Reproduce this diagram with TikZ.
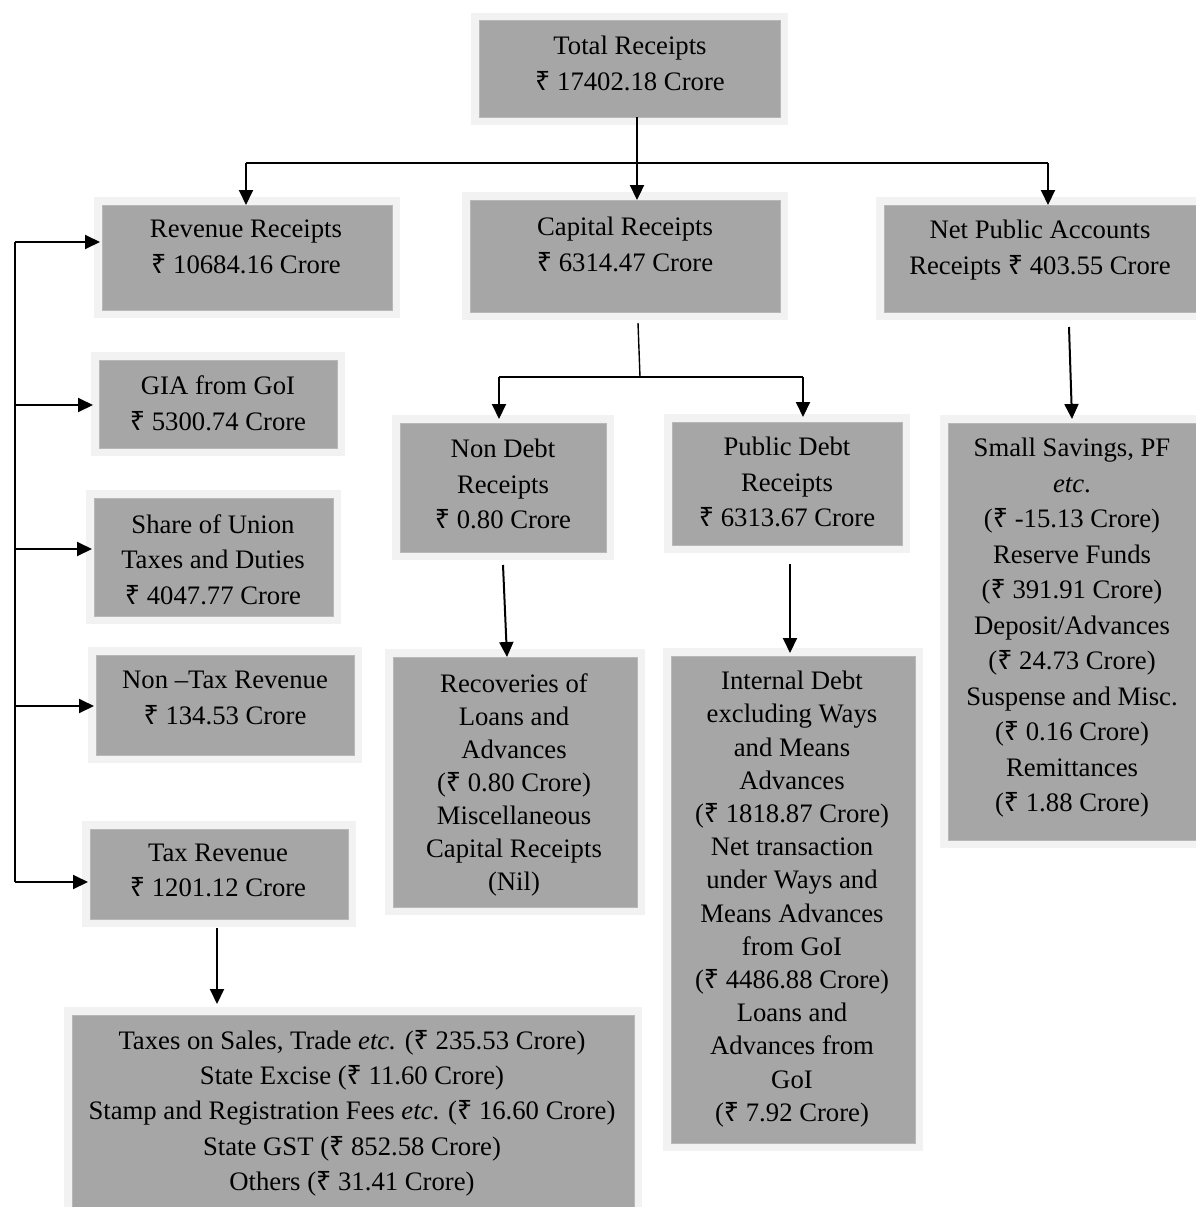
\documentclass[tikz,border=0pt]{standalone}
\usepackage{fontspec}
\setmainfont{Liberation Serif}
\newfontfamily\rupfont{Noto Sans}
\newcommand\rs{{\rupfont ₹}}
\usetikzlibrary{arrows.meta,calc}
\definecolor{boxfill}{HTML}{A6A6A6}
\definecolor{boxrim}{HTML}{F2F2F2}
\definecolor{boxedge}{HTML}{B8B8B8}
\newcommand\gbx[5]{\node[gbox, minimum width={#4-#2}, minimum height={#5-#3}] (#1) at (#2,#3) {};}
\begin{document}
\begin{tikzpicture}[x=1pt,y=-1pt,
  gbox/.style={draw=boxedge, line width=1pt, fill=boxfill, preaction={draw=boxrim, line width=16pt}, anchor=north west, inner sep=0pt, outer sep=0pt},
  txt/.style={anchor=north, inner sep=0pt, align=center, font=\fontsize{26.7}{#1}\selectfont},
  txt/.default=36,
  ln/.style={line width=2pt},
  arr/.style={line width=2pt, -{Triangle[length=15pt,width=14pt]}}]
\fill[white] (0,0) rectangle (1196,1207);
\useasboundingbox (0,0) rectangle (1196,1207);
\clip (0,0) rectangle (1196,1207);
% boxes
\gbx{tot}{479}{21}{780}{117}
\gbx{rev}{102}{205}{392}{310}
\gbx{cap}{470}{200}{780}{312}
\gbx{net}{884}{205}{1204}{312}
\gbx{gia}{99}{360}{337}{448}
\gbx{share}{94}{498}{333}{616}
\gbx{ntax}{96}{655}{354}{755}
\gbx{tax}{90}{829}{348}{919}
\gbx{nd}{400}{423}{606}{552}
\gbx{pd}{672}{422}{902}{545}
\gbx{rec}{393}{657}{637}{907}
\gbx{idb}{671}{656}{915}{1143}
\gbx{ss}{948}{423}{1204}{840}
\gbx{bot}{72}{1015}{634}{1220}
% texts
\node[txt] (tott) at (630,36) {Total Receipts\\\rs{} 17402.18 Crore};
\node[txt] (revt) at (246,220) {Revenue Receipts\\\rs{} 10684.16 Crore};
\node[txt] (capt) at (625,217) {Capital Receipts\\\rs{} 6314.47 Crore};
\node[txt] (nett) at (1040,220) {Net Public Accounts\\Receipts \rs{} 403.55 Crore};
\node[txt] (giat) at (218,375) {GIA from GoI\\\rs{} 5300.74 Crore};
\node[txt=35.5] (sharet) at (213,514) {Share of Union\\Taxes and Duties\\\rs{} 4047.77 Crore};
\node[txt=35.5] (ntaxt) at (225,671) {Non –Tax Revenue\\\rs{} 134.53 Crore};
\node[txt=34.5] (taxt) at (218,844) {Tax Revenue\\\rs{} 1201.12 Crore};
\node[txt=35.5] (ndt) at (503,439) {Non Debt\\Receipts\\\rs{} 0.80 Crore};
\node[txt=35.5] (pdt) at (787,437) {Public Debt\\Receipts\\\rs{} 6313.67 Crore};
\node[txt=35.5] (sst) at (1072,438) {Small Savings, PF\\\textit{etc}.\\(\rs{} -15.13 Crore)\\Reserve Funds\\(\rs{} 391.91 Crore)\\Deposit/Advances\\(\rs{} 24.73 Crore)\\Suspense and Misc.\\(\rs{} 0.16 Crore)\\Remittances\\(\rs{} 1.88 Crore)};
\node[txt=33] (rect) at (514,673) {Recoveries of\\Loans and\\Advances\\(\rs{} 0.80 Crore)\\Miscellaneous\\Capital Receipts\\(Nil)};
\node[txt=33.2] (idbt) at (792,671) {Internal Debt\\excluding Ways\\and Means\\Advances\\(\rs{} 1818.87 Crore)\\Net transaction\\under Ways and\\Means Advances\\from GoI\\(\rs{} 4486.88 Crore)\\Loans and\\Advances from\\GoI\\(\rs{} 7.92 Crore)};
\node[txt=35.3] (bott) at (352,1030) {Taxes on Sales, Trade \textit{etc.} (\rs{} 235.53 Crore)\\State Excise (\rs{} 11.60 Crore)\\Stamp and Registration Fees \textit{etc}. (\rs{} 16.60 Crore)\\State GST (\rs{} 852.58 Crore)\\Others (\rs{} 31.41 Crore)};
% top connectors
\coordinate (hL) at (246,163);
\coordinate (hM) at (637,163);
\coordinate (hR) at (1048,163);
\draw[ln] (hL) -- (hR);
\draw[arr] (hL) -- (rev.north -| hL);
\draw[arr, line width=2.3pt] (tot.south -| hM) -- (cap.north -| hM);
\draw[arr] (hR) -- (net.north -| hR);
% capital split
\coordinate (sM) at (640,377);
\coordinate (sL) at (499,377);
\coordinate (sR) at (803,377);
\draw[line width=1.4pt] ($(cap.south -| sM)+(-2,11)$) -- (sM);
\draw[ln] (sL) -- (sR);
\draw[arr] (sL) -- ($(nd.north -| sL)+(0,-4)$);
\draw[arr] (sR) -- ($(pd.north -| sR)+(0,-5)$);
% lower vertical arrows
\draw[arr] ($(nd.south)+(0,13)$) -- ($(rec.north west)+(114,0)$);
\draw[arr] ($(pd.south)+(3,19)$) -- ($(idb.north)+(-3,-3)$);
\draw[arr] ($(net.south west)+(185,15)$) -- ($(ss.north west)+(124,-4)$);
\draw[arr] ($(tax.south west)+(127,9)$) -- ($(bot.north west)+(145,-11)$);
% left rail
\coordinate (r1) at (15,242);
\coordinate (r2) at (15,405);
\coordinate (r3) at (15,549);
\coordinate (r4) at (15,706);
\coordinate (r5) at (15,882);
\draw[ln] (r1) -- (r5);
\draw[arr] (r1) -- ($(rev.west |- r1)+(-2,0)$);
\draw[arr] (r2) -- ($(gia.west |- r2)+(-6,0)$);
\draw[arr] (r3) -- ($(share.west |- r3)+(-2,0)$);
\draw[arr] (r4) -- ($(ntax.west |- r4)+(-2,0)$);
\draw[arr] (r5) -- ($(tax.west |- r5)+(-2,0)$);
\end{tikzpicture}
\end{document}
